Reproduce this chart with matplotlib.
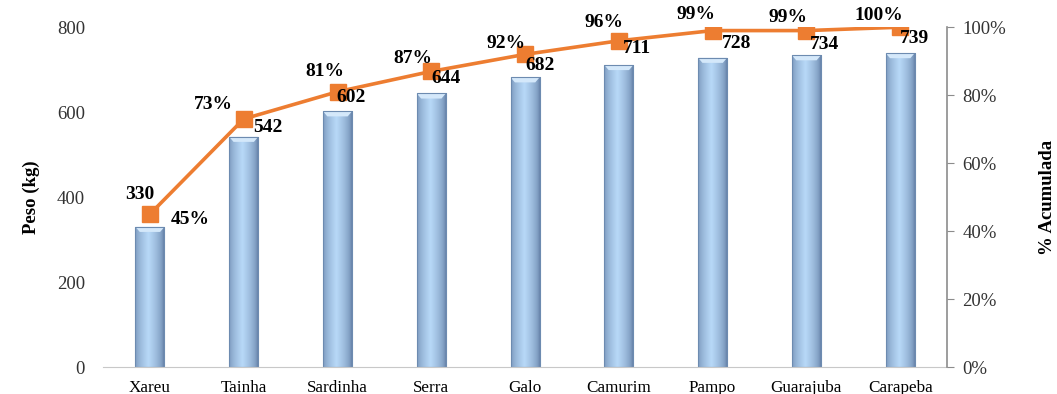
import matplotlib
matplotlib.use("Agg")
import matplotlib.pyplot as plt
import numpy as np
from matplotlib.ticker import FuncFormatter

plt.rcParams['font.family'] = ['Liberation Serif', 'DejaVu Serif']

# dados
especies = ['Xareu', 'Tainha', 'Sardinha', 'Serra', 'Galo', 'Camurim', 'Pampo', 'Guarajuba', 'Carapeba']
peso = [330, 542, 602, 644, 682, 711, 728, 734, 739]
acumulada = [45, 73, 81, 87, 92, 96, 99, 99, 100]

# deslocamento dos rotulos (pixels)
off_pct = [(40, -5), (-30, 14), (-13, 20), (-18, 13), (-19, 11), (-15, 18), (-17, 16), (-18, 13), (-21, 12)]
off_val = [(-10, 32), (24, 9), (14, 14), (15, 15), (15, 12), (18, 16), (24, 14), (18, 11), (14, 15)]

fig = plt.figure(figsize=(10.57, 3.94), dpi=100)
ax1 = fig.add_axes([0.0975, 0.0685, 0.7985, 0.8625])
x = np.arange(len(especies))

bars = ax1.bar(x, peso, width=0.31, color='none', edgecolor='#6d8bb0', linewidth=0.8, zorder=2)

# gradiente horizontal nas barras (efeito cilindro)
grad = np.linspace(0, 1, 64)
prof = 1 - np.abs(grad - 0.45) * 2
prof = np.clip(prof, 0, 1) ** 0.6
c_borda = np.array([0.42, 0.53, 0.68])
c_meio = np.array([0.72, 0.85, 0.97])
img = c_borda[None, :] + (c_meio - c_borda)[None, :] * prof[:, None]
img = img[None, :, :]
for b in bars:
    x0, y0 = b.get_x(), b.get_y()
    w, h = b.get_width(), b.get_height()
    im = ax1.imshow(img, extent=[x0, x0 + w, y0, y0 + h], aspect='auto', zorder=1.5)
    im.set_clip_path(b)
    # tampa superior mais clara
    ax1.fill([x0, x0 + w, x0 + w * 0.85, x0 + w * 0.15], [y0 + h, y0 + h, y0 + h - 12, y0 + h - 12],
             color='#d4e8fa', zorder=1.6, lw=0)

ax1.set_xlim(-0.5, len(especies) - 0.5)
ax1.set_ylim(0, 800)
ax1.set_yticks([0, 200, 400, 600, 800])
ax1.set_xticks(x)
ax1.set_xticklabels(especies, fontsize=12.3)
ax1.tick_params(axis='x', length=0, pad=9)
ax1.tick_params(axis='y', length=0, pad=13, labelsize=13.5, labelcolor='#333333')
for s in ['left', 'top', 'right']:
    ax1.spines[s].set_visible(False)
ax1.spines['bottom'].set_color('#c8c8c8')
ax1.set_ylabel('Peso (kg)', fontsize=13.5, fontweight='bold', labelpad=12)

ax2 = ax1.twinx()
ax2.plot(x, acumulada, color='#ed7d31', lw=2.6, marker='s', markersize=11, zorder=3)
ax2.set_ylim(0, 100)
ax2.set_yticks([0, 20, 40, 60, 80, 100])
ax2.yaxis.set_major_formatter(FuncFormatter(lambda v, p: '%d%%' % v))
ax2.tick_params(axis='y', direction='out', length=5, color='#8c8c8c', pad=6, labelsize=13.5, labelcolor='#333333')
for s in ['left', 'top', 'bottom']:
    ax2.spines[s].set_visible(False)
ax2.spines['right'].set_color('#8c8c8c')
ax2.spines['right'].set_linewidth(1.2)
ax2.set_ylabel('% Acumulada', fontsize=13.5, fontweight='bold', rotation=90, labelpad=24)

for i in range(len(especies)):
    dx, dy = off_pct[i]
    ax2.annotate('%d%%' % acumulada[i], (x[i], acumulada[i]), xytext=(dx * 0.72, dy * 0.72),
                 textcoords='offset points', ha='center', va='center', fontsize=14, fontweight='bold', zorder=5)
    dx, dy = off_val[i]
    ax2.annotate(str(peso[i]), (x[i], peso[i] / 8.0), xytext=(dx * 0.72, dy * 0.72),
                 textcoords='offset points', ha='center', va='center', fontsize=14, fontweight='bold', zorder=5)

fig.savefig('out.png', dpi=100)
